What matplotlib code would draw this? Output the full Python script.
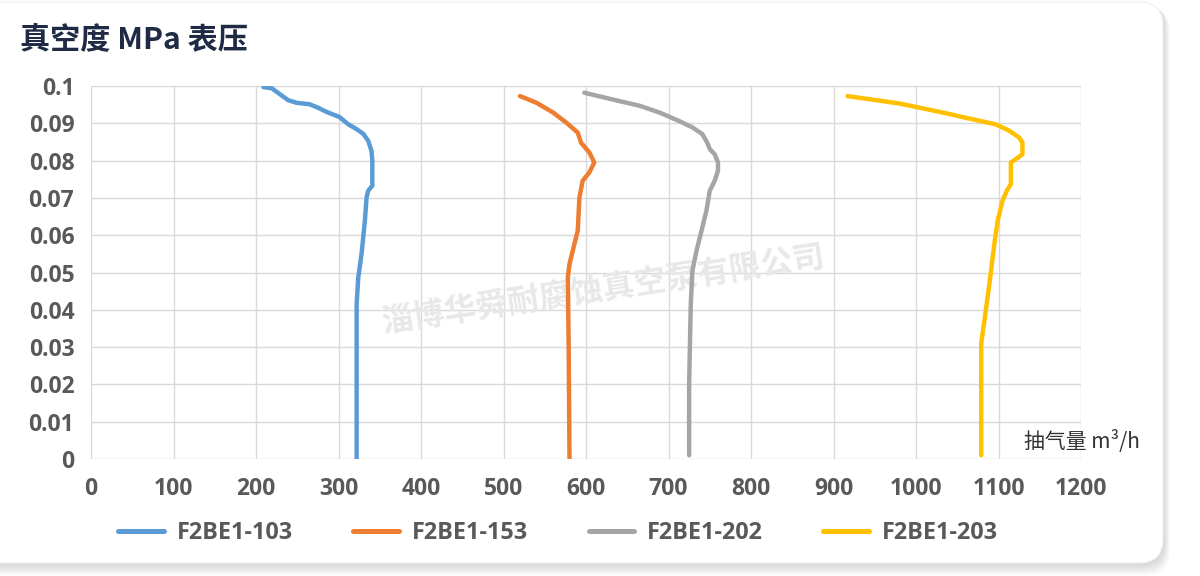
"""
真空度-抽气量曲线  F2BE1 系列
"""
import matplotlib
matplotlib.use('Agg')
import matplotlib.pyplot as plt
from matplotlib.patches import FancyBboxPatch

plt.rcParams['font.family'] = ['Open Sans', 'Noto Sans CJK SC', 'DejaVu Sans']

# 数据 (抽气量 m3/h, 真空度 MPa)
flow_103 = [209, 219, 229, 239, 249, 265, 275, 285, 301, 312, 320, 330, 336, 340,
            341, 341, 341, 336, 334, 332, 328, 324, 322, 322]
vac_103 = [0.0997, 0.0994, 0.0978, 0.0962, 0.0955, 0.0951, 0.0942, 0.0931, 0.0917,
           0.0897, 0.0887, 0.0872, 0.0853, 0.0826, 0.0800, 0.0746, 0.0733, 0.0719,
           0.0701, 0.0639, 0.0551, 0.0487, 0.0417, 0.0]

flow_153 = [520, 540, 560, 576, 590, 594, 604, 610, 604, 596, 592, 590, 586, 580,
            578, 579, 580]
vac_153 = [0.0973, 0.0955, 0.0929, 0.0902, 0.0875, 0.0848, 0.0822, 0.0795, 0.0768,
           0.0746, 0.0701, 0.0612, 0.0577, 0.0523, 0.0487, 0.0300, 0.0]

flow_202 = [598, 632, 665, 689, 713, 729, 741, 747, 750, 756, 760, 760, 756, 750,
            746, 740, 734, 729, 727, 725, 725]
vac_202 = [0.0982, 0.0964, 0.0947, 0.0929, 0.0906, 0.0889, 0.0871, 0.0848, 0.0831,
           0.0817, 0.0795, 0.0773, 0.0746, 0.0719, 0.0666, 0.0612, 0.0559, 0.0505,
           0.0416, 0.0200, 0.001]

flow_203 = [917, 980, 1032, 1060, 1097, 1113, 1125, 1129, 1129, 1123, 1115, 1115,
            1110, 1105, 1099, 1095, 1089, 1083, 1079, 1079]
vac_203 = [0.0973, 0.0953, 0.0929, 0.0915, 0.0897, 0.0880, 0.0862, 0.0848, 0.0817,
           0.0807, 0.0795, 0.0737, 0.0719, 0.0693, 0.0639, 0.0577, 0.0470, 0.0372,
           0.0310, 0.001]

series = [
    ('F2BE1-103', flow_103, vac_103, '#5B9BD5'),
    ('F2BE1-153', flow_153, vac_153, '#ED7D31'),
    ('F2BE1-202', flow_202, vac_202, '#A5A5A5'),
    ('F2BE1-203', flow_203, vac_203, '#FFC000'),
]

x_ticks = list(range(0, 1201, 100))
y_ticks = [0, 0.01, 0.02, 0.03, 0.04, 0.05, 0.06, 0.07, 0.08, 0.09, 0.1]
y_labels = ['0', '0.01', '0.02', '0.03', '0.04', '0.05', '0.06', '0.07', '0.08', '0.09', '0.1']

W, H = 1200, 576
fig = plt.figure(figsize=(W / 100, H / 100), dpi=100, facecolor='white')

# 背景卡片 + 阴影 (像素坐标)
bg = fig.add_axes([0, 0, 1, 1], zorder=-5)
bg.set_xlim(0, W)
bg.set_ylim(H, 0)
bg.axis('off')
for i in range(14, 0, -1):
    sh = FancyBboxPatch((-40 + i * 0.5, 2 + i * 0.4), 1203, 561 + i * 0.5,
                        boxstyle='round,pad=0,rounding_size=24',
                        facecolor='#000000', edgecolor='none', alpha=0.011)
    bg.add_patch(sh)
card = FancyBboxPatch((-40, 2), 1203, 561, boxstyle='round,pad=0,rounding_size=24',
                      facecolor='white', edgecolor='#f0f0f0', linewidth=0.8)
bg.add_patch(card)

ax = fig.add_axes([91 / W, 1 - 459 / H, 990 / W, 373 / H])
ax.set_facecolor('none')

for name, fx, vy, col in series:
    ax.plot(fx, vy, color=col, linewidth=3.2, label=name, zorder=3,
            solid_capstyle='round', solid_joinstyle='round')

ax.set_xlim(0, 1200)
ax.set_ylim(0, 0.1)
ax.set_xticks(x_ticks)
ax.set_yticks(y_ticks)
ax.set_yticklabels(y_labels)
ax.grid(True, color='#d9d9d9', linewidth=1)
ax.set_axisbelow(True)
for s in ax.spines.values():
    s.set_visible(False)
ax.tick_params(length=0, labelsize=16.5, labelcolor='#595959')
ax.tick_params(axis='x', pad=13)
ax.tick_params(axis='y', pad=12)
for lab in ax.get_xticklabels() + ax.get_yticklabels():
    lab.set_fontweight('bold')

# 水印
ax.text(0.518, 0.455, '淄博华舜耐腐蚀真空泵有限公司', transform=ax.transAxes,
        ha='center', va='center', rotation=8.5, fontsize=23, fontweight='bold',
        color='#e8e8e8', family=['Noto Sans CJK SC'], zorder=1)

# 标题 / 轴标题
fig.text(20 / W, 1 - 40 / H, '真空度 MPa 表压', ha='left', va='center',
         fontsize=21.7, fontweight='bold', color='#1f2a44', family=['Noto Sans CJK SC'])
fig.text(1024 / W, 1 - 441 / H, '抽气量 m³/h', ha='left', va='center',
         fontsize=15, color='#333333', family=['Noto Sans CJK SC', 'DejaVu Sans'])

leg = fig.legend(loc='center', bbox_to_anchor=(558 / W, 1 - 533 / H), ncol=4,
                 frameon=False, fontsize=16.8, handlelength=1.95, handletextpad=0.55,
                 columnspacing=2.6)
for line in leg.get_lines():
    line.set_linewidth(3.6)
for t in leg.get_texts():
    t.set_color('#595959')
    t.set_fontweight('bold')

fig.savefig('out.png', dpi=100, facecolor='white')
